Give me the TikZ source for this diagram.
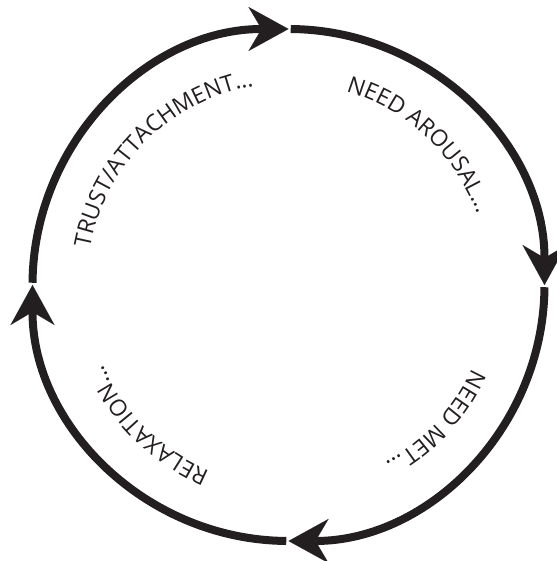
\documentclass[tikz,border=0pt]{standalone}
\usepackage{fontspec}
\setmainfont{Open Sans}
\usetikzlibrary{arrows.meta,decorations.text}
\definecolor{ink}{HTML}{231F20}
\begin{document}
\begin{tikzpicture}[x=1pt,y=1pt,
  cyc/.style={line width=8pt, draw=ink, line cap=butt,
    -{Stealth[length=40pt,width=44pt,inset=13pt,line width=0.1pt]}},
  lbl/.style={decorate, decoration={text along path, text align=left,
    text color=ink, text={#1}}}]
\useasboundingbox (0,0) rectangle (556,561);
\coordinate (c) at (288.5,276);
% cycle arcs (clockwise)
\draw[cyc] (c) ++(179.5:256) arc[start angle=179.5,end angle=90,radius=256];
\draw[cyc] (c) ++(89.5:256) arc[start angle=89.5,end angle=0,radius=256];
\draw[cyc] (c) ++(-0.5:256) arc[start angle=-0.5,end angle=-90,radius=256];
\draw[cyc] (c) ++(-90.5:256) arc[start angle=-90.5,end angle=-180,radius=256];
% labels along the circle
\path[lbl={|\fontsize{23}{28}\selectfont|TRUST/ATTACHMENT...}]
  (c) ++(169.5:202) arc[start angle=169.5,end angle=40,radius=202];
\path[lbl={|\fontsize{23}{28}\selectfont|NEED AROUSAL...}]
  (c) ++(73.5:202) arc[start angle=73.5,end angle=-60,radius=202];
\path[lbl={|\fontsize{23}{28}\selectfont|NEED MET...}]
  (c) ++(-24.5:202) arc[start angle=-24.5,end angle=-150,radius=202];
\path[lbl={|\fontsize{23}{28}\selectfont|RELAXATION...}]
  (c) ++(247:202) arc[start angle=247,end angle=120,radius=202];
\end{tikzpicture}
\end{document}
